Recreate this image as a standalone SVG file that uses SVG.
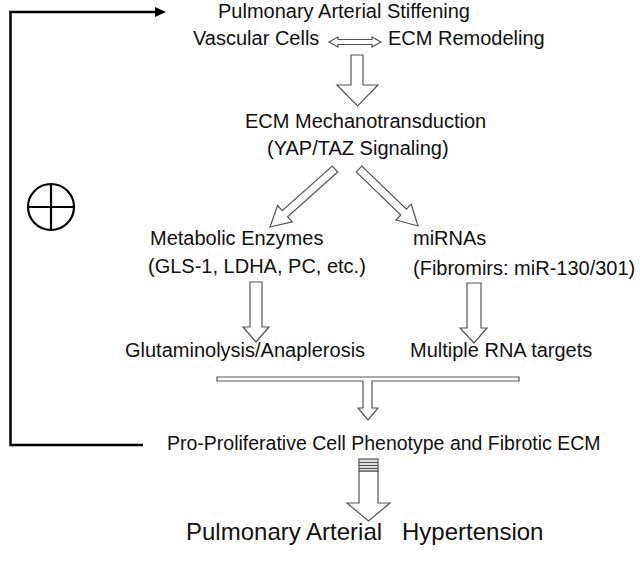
<svg xmlns="http://www.w3.org/2000/svg" width="640" height="562" viewBox="0 0 640 562">
<defs>
<style>
text{font-family:"Liberation Sans",Arial,sans-serif;fill:#111;font-size:20px}
text.ph{font-size:19.5px}
text.pah{font-size:24px}
.blk{fill:#fff;stroke:#555;stroke-width:1.2;stroke-linejoin:miter}
.fb{fill:none;stroke:#000;stroke-width:2.5}
</style>
</defs>
<rect width="640" height="562" fill="#fff"/>
<g id="connectors">
<path class="fb" d="M143,445 H10.5 V12 H157"/>
<polygon points="166,12 155,7 155,17" fill="#000"/>
<polygon class="blk" points="329,42 338,37 338,39.5 372,39.5 372,37 381,42 372,47 372,44.5 338,44.5 338,47"/>
<polygon class="blk" points="351,55 363,55 363,85 378,85 357.5,106 337,85 351,85"/>
<polygon class="blk" points="337.7,172 287.6,216.7 292.2,221.9 270,227 277.6,205.5 282.2,210.7 332.3,166"/>
<polygon class="blk" points="356.2,171.9 400.8,215 396,220 418,226 411.2,204.2 406.4,209.2 361.8,166.1"/>
<polygon class="blk" points="250,282 262,282 262,327 269,327 256,342 243,327 250,327"/>
<polygon class="blk" points="467,283 481,283 481,328 487,328 474,343 460,328 467,328"/>
<path class="blk" d="M217,377 H519 V381 H372 V408 H378 L368,420 L358,408 H363 V381 H217 Z"/>
<polygon class="blk" points="359,471 378,471 378,503 390,503 368.5,521 347,503 359,503"/>
<rect x="359" y="459" width="19" height="12" fill="#ddd" stroke="#555" stroke-width="1.2"/>
<path d="M359,462.5 H378 M359,465.5 H378 M359,468.5 H378" stroke="#555" stroke-width="1.2"/>
</g>
<g id="feedback-sign">
<circle cx="51" cy="207" r="23" fill="none" stroke="#000" stroke-width="2.2"/>
<path d="M28,207 H74 M51,184 V230" stroke="#000" stroke-width="2.2"/>
</g>
<g id="n-stiffening"><text x="218" y="18">Pulmonary Arterial Stiffening</text></g>
<g id="n-vascular"><text x="193" y="45">Vascular Cells</text></g>
<g id="n-ecm"><text x="388" y="45">ECM Remodeling</text></g>
<g id="n-mechano"><text x="245" y="128">ECM Mechanotransduction</text><text x="267" y="155">(YAP/TAZ Signaling)</text></g>
<g id="n-enzymes"><text x="150" y="245">Metabolic Enzymes</text><text x="148" y="273">(GLS-1, LDHA, PC, etc.)</text></g>
<g id="n-mirnas"><text x="413" y="245">miRNAs</text><text x="413" y="275">(Fibromirs: miR-130/301)</text></g>
<g id="n-glut"><text x="125" y="357">Glutaminolysis/Anaplerosis</text></g>
<g id="n-rna"><text x="410" y="357">Multiple RNA targets</text></g>
<g id="n-pheno"><text class="ph" x="167" y="450">Pro-Proliferative Cell Phenotype and Fibrotic ECM</text></g>
<g id="n-pah"><text class="pah" y="540"><tspan x="186">Pulmonary Arterial</tspan><tspan x="402">Hypertension</tspan></text></g>
</svg>
